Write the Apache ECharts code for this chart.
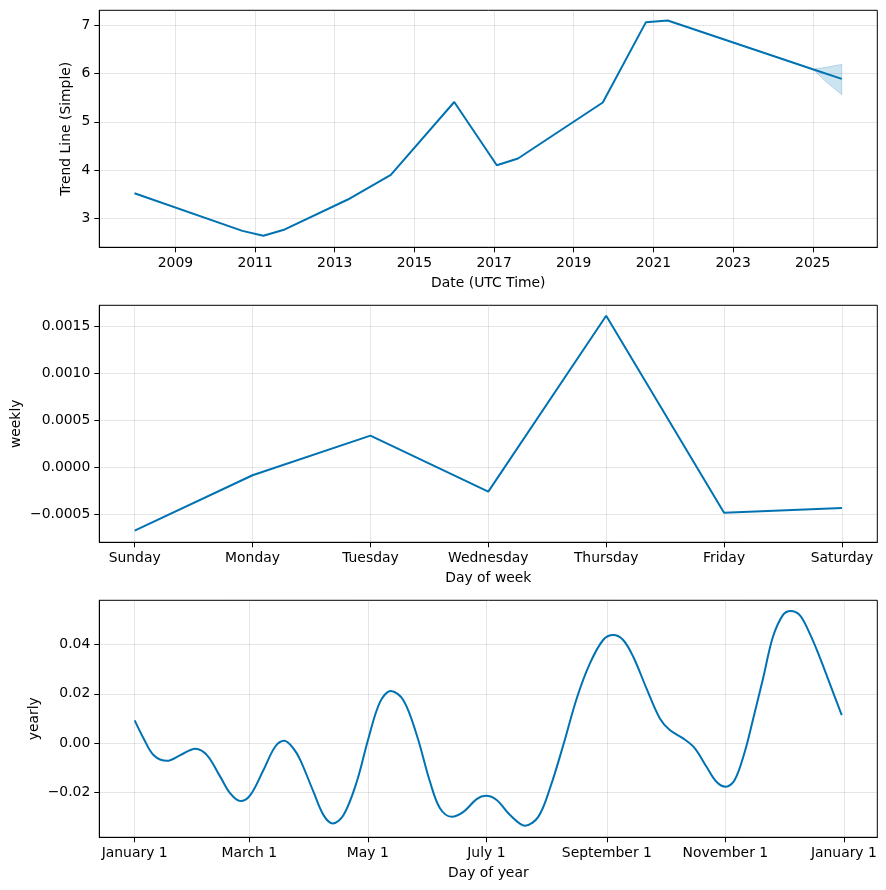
<!DOCTYPE html>
<html>
<head>
<meta charset="utf-8">
<script src="https://cdn.jsdelivr.net/npm/echarts@6/dist/echarts.min.js"></script>
<style>
html,body{margin:0;padding:0;background:#fff;}
#chart{width:886px;height:890px;}
</style>
</head>
<body>
<div id="chart"></div>
<script>
// ---- Panel 1: trend ----
const trendDates = ['2007-12-22','2010-09-07','2011-03-18','2011-10-01','2013-05-01','2014-05-30','2016-01-01','2017-01-26','2017-08-08','2019-09-24','2020-10-23','2021-05-12','2025-01-01','2025-09-24'];
const trendValues = [3.52, 2.74, 2.64, 2.77, 3.39, 3.90, 5.41, 4.10, 4.24, 5.40, 7.06, 7.10, 6.09, 5.89];
const bandDates = ['2025-01-01','2025-05-01','2025-09-24'];
const bandLower = [6.09, 5.83, 5.56];
const bandUpper = [6.09, 6.13, 6.19];
const trendYearTicks = [2009, 2011, 2013, 2015, 2017, 2019, 2021, 2023, 2025];
const trendValueTicks = [3, 4, 5, 6, 7];

// ---- Panel 2: weekly ----
const weekDays = ['Sunday','Monday','Tuesday','Wednesday','Thursday','Friday','Saturday'];
const weeklyValues = [-0.000676, -0.000085, 0.000337, -0.00026, 0.001616, -0.000484, -0.000434];
const weeklyTicks = [-0.0005, 0.0, 0.0005, 0.0010, 0.0015];

// ---- Panel 3: yearly ----
const yearlyDays = [0, 4.6, 9.8, 16.7, 23.5, 31.2, 37.2, 44.1, 49.2, 54.4, 59.5, 66.3, 72.3, 77, 81.7, 85.2, 92, 97.2, 102, 107.5, 114.3, 120.3, 126.3, 131.8, 138.3, 145.2, 152, 157.2, 163.2, 169.2, 176, 180.8, 186.3, 193.2, 200.9, 207.7, 213.7, 220.6, 227.5, 234.3, 241.1, 246.3, 251.4, 256.6, 263.4, 270.3, 275.4, 282.3, 288.3, 294.3, 299.4, 304.2, 308.8, 314, 318.2, 323.4, 328.5, 333.7, 337.6, 342.3, 347.4, 352.5, 357.7, 363.9];
const yearlyValues = [0.0092, 0.0019, -0.0049, -0.0072, -0.0049, -0.0023, -0.0049, -0.0137, -0.0204, -0.0235, -0.0211, -0.0109, -0.0015, 0.0009, -0.0022, -0.0068, -0.0197, -0.0292, -0.0326, -0.0292, -0.0157, 0.0019, 0.0167, 0.0211, 0.0174, 0.0032, -0.0157, -0.0265, -0.0299, -0.0279, -0.0227, -0.0214, -0.0231, -0.0292, -0.0335, -0.0299, -0.0184, -0.0008, 0.0181, 0.0323, 0.0418, 0.0438, 0.0418, 0.0350, 0.0222, 0.0100, 0.0053, 0.0019, -0.0021, -0.0096, -0.0157, -0.0177, -0.0150, -0.0035, 0.0095, 0.0262, 0.0431, 0.0520, 0.0536, 0.0519, 0.0445, 0.0350, 0.0242, 0.0113];
const monthTickDays = [0, 59, 120, 181, 243, 304, 365];
const monthTickLabels = ['January 1','March 1','May 1','July 1','September 1','November 1','January 1'];
const yearlyTicks = [-0.02, 0.0, 0.02, 0.04];

const FONT = 'DejaVu Sans';
const LINE = '#0072B2';
const GRIDC = 'rgba(128,128,128,0.2)';
const minus = s => s.replace('-', '\u2212');

// date string -> fractional year
function toYear(s) {
  const [y, m, d] = s.split('-').map(Number);
  const start = Date.UTC(y, 0, 1), end = Date.UTC(y + 1, 0, 1);
  return y + (Date.UTC(y, m - 1, d) - start) / (end - start);
}

function tickCfg(vals) {
  return {show: true, length: 5, lineStyle: {color: '#000', width: 1}, customValues: vals};
}
function labelCfg(vals, fmt) {
  return {fontFamily: FONT, fontSize: 13.9, color: '#000', margin: 9, customValues: vals, formatter: fmt};
}
function axisBase(gridIndex, name, gap, extra) {
  return Object.assign({
    type: 'value', gridIndex, name, nameLocation: 'middle', nameGap: gap, nameMoveOverlap: false,
    nameTextStyle: {fontFamily: FONT, fontSize: 13.9, color: '#000'},
    axisLine: {show: true, onZero: false, lineStyle: {color: '#000', width: 1}},
    splitLine: {show: true, lineStyle: {color: GRIDC, width: 1}}
  }, extra);
}
function gridAt(top) {
  return {left: 99.3, top: top, right: 8.7, height: 237, show: true, borderColor: '#000', borderWidth: 1,
    containLabel: false, outerBoundsMode: 'none'};
}

const weekIdx = weekDays.map((d, i) => i);

const option = {
  animation: false,
  backgroundColor: '#fff',
  grid: [gridAt(10.3), gridAt(305.3), gridAt(600.3)],
  xAxis: [
    axisBase(0, 'Date (UTC Time)', 29.5, {
      min: 2007.09, max: 2026.62,
      axisTick: tickCfg(trendYearTicks),
      axisLabel: labelCfg(trendYearTicks, v => String(Math.round(v)))
    }),
    axisBase(1, 'Day of week', 29.5, {
      min: -0.3, max: 6.3,
      axisTick: tickCfg(weekIdx),
      axisLabel: labelCfg(weekIdx, v => weekDays[Math.round(v)])
    }),
    axisBase(2, 'Day of year', 29.5, {
      min: -18.2, max: 382.2,
      axisTick: tickCfg(monthTickDays),
      axisLabel: labelCfg(monthTickDays, v => monthTickLabels[monthTickDays.indexOf(v)])
    })
  ],
  yAxis: [
    axisBase(0, 'Trend Line (Simple)', 25.6, {
      min: 2.40, max: 7.31,
      axisTick: tickCfg(trendValueTicks),
      axisLabel: labelCfg(trendValueTicks, v => String(v))
    }),
    axisBase(1, 'weekly', 75.6, {
      min: -0.0008, max: 0.001727,
      axisTick: tickCfg(weeklyTicks),
      axisLabel: labelCfg(weeklyTicks, v => minus(v.toFixed(4)))
    }),
    axisBase(2, 'yearly', 58, {
      min: -0.0382, max: 0.0579,
      axisTick: tickCfg(yearlyTicks),
      axisLabel: labelCfg(yearlyTicks, v => minus(v.toFixed(2)))
    })
  ],
  series: [
    {
      // uncertainty band: polygon through upper edge then lower edge, placed by the axes
      type: 'custom', xAxisIndex: 0, yAxisIndex: 0, silent: true, z: 1,
      data: [0],
      renderItem: function (params, api) {
        const pts = [];
        bandDates.forEach((d, i) => pts.push(api.coord([toYear(d), bandUpper[i]])));
        for (let i = bandDates.length - 1; i >= 0; i--) pts.push(api.coord([toYear(bandDates[i]), bandLower[i]]));
        return {
          type: 'polygon',
          shape: {points: pts},
          style: {fill: 'rgba(0,114,178,0.2)', stroke: 'rgba(0,114,178,0.2)', lineWidth: 1}
        };
      }
    },
    {
      type: 'line', xAxisIndex: 0, yAxisIndex: 0, symbol: 'none', z: 3,
      lineStyle: {color: LINE, width: 2},
      data: trendDates.map((d, i) => [toYear(d), trendValues[i]])
    },
    {
      type: 'line', xAxisIndex: 1, yAxisIndex: 1, symbol: 'none',
      lineStyle: {color: LINE, width: 2},
      data: weeklyValues.map((v, i) => [i, v])
    },
    {
      type: 'line', xAxisIndex: 2, yAxisIndex: 2, symbol: 'none', smooth: 0.35,
      lineStyle: {color: LINE, width: 2},
      data: yearlyDays.map((d, i) => [d, yearlyValues[i]])
    }
  ]
};

const chart = echarts.init(document.getElementById('chart'), null, {renderer: 'canvas'});
chart.setOption(option);
</script>
</body>
</html>
